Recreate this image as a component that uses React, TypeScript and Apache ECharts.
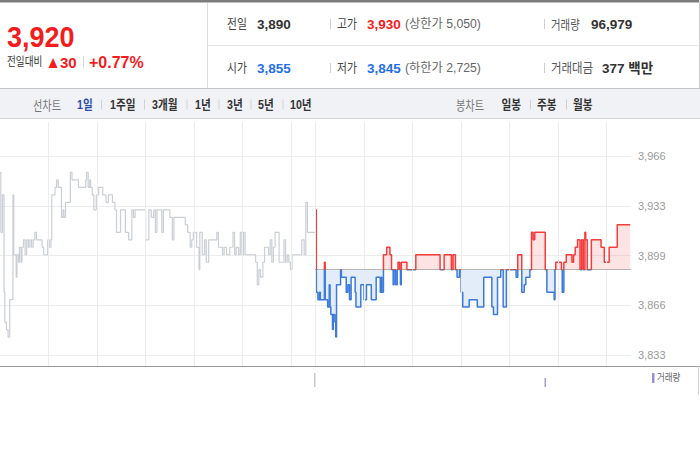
import React, { useEffect, useRef } from "react";
import * as echarts from "echarts";

// ---------- data ----------
const yTickLabels = ["3,833", "3,866", "3,899", "3,933", "3,966"];
const yMin = 3833;
const yMax = 3966;
const prevClose = 3890;
const hourLines = [60, 120, 180, 240, 300, 360, 390, 450, 510, 570, 630, 690, 750];

// previous session (minutes from 09:00), gray line
const prevTimes = [
  0, 1, 3, 5, 6, 8, 10, 12, 16, 17, 20, 21, 23, 24, 26, 27, 29, 31, 33, 35, 37, 39, 41, 43, 45, 52, 54, 59, 61, 63,
  64, 68, 70, 72, 76, 78, 79, 81, 87, 89, 97, 106, 107, 109, 111, 112, 114, 116, 119, 122, 127, 131, 134, 139, 142,
  144, 149, 155, 159, 163, 165, 167, 180, 184, 187, 190, 192, 194, 200, 202, 210, 213, 215, 229, 232, 235, 237, 239,
  243, 246, 247, 250, 253, 255, 258, 268, 270, 275, 277, 280, 284, 288, 290, 292, 295, 297, 299, 301, 303, 316, 318,
  320, 322, 325, 327, 332, 334, 336, 338, 340, 345, 351, 353, 355, 357, 359, 361, 373, 376, 378, 380, 390,
];
const prevPrices = [
  3955, 3915, 3940, 3875, 3855, 3850, 3845, 3870, 3940, 3900, 3885, 3900, 3895, 3905, 3895, 3905, 3910, 3900, 3910,
  3905, 3910, 3905, 3910, 3915, 3910, 3905, 3900, 3910, 3905, 3910, 3940, 3945, 3950, 3945, 3925, 3930, 3925, 3935,
  3955, 3950, 3945, 3950, 3955, 3945, 3950, 3945, 3940, 3930, 3940, 3945, 3940, 3935, 3940, 3935, 3930, 3915, 3930,
  3915, 3910, 3930, 3925, 3930, 3910, 3930, 3925, 3930, 3915, 3930, 3915, 3930, 3925, 3910, 3925, 3920, 3915, 3905,
  3910, 3915, 3905, 3890, 3915, 3900, 3910, 3895, 3910, 3915, 3905, 3900, 3905, 3900, 3905, 3915, 3900, 3905, 3900,
  3915, 3900, 3915, 3900, 3895, 3880, 3890, 3885, 3895, 3905, 3900, 3910, 3895, 3905, 3915, 3895, 3910, 3895, 3900,
  3895, 3890, 3900, 3910, 3900, 3935, 3915, 3915,
];

// current session (minutes from previous 09:00), red/blue line
const todayTimes = [
  390, 391, 393, 395, 396, 401, 402, 405, 407, 408, 409, 411, 412, 414, 415, 416, 421, 422, 428, 430, 432, 434, 439,
  440, 446, 450, 453, 459, 465, 470, 471, 472, 474, 478, 482, 484, 486, 487, 489, 491, 492, 494, 495, 496, 503, 514,
  544, 549, 558, 560, 563, 565, 568, 570, 572, 580, 590, 598, 608, 610, 615, 619, 622, 626, 638, 640, 645, 648, 650,
  655, 657, 659, 661, 674, 676, 685, 686, 687, 694, 695, 697, 700, 707, 709, 711, 714, 717, 719, 721, 723, 724, 726,
  731, 743, 747, 753, 763, 779,
];
const todayPrices = [
  3930, 3875, 3870, 3875, 3870, 3895, 3870, 3865, 3880, 3865, 3860, 3850, 3860, 3855, 3845, 3880, 3890, 3885, 3875,
  3880, 3870, 3885, 3875, 3865, 3880, 3870, 3880, 3870, 3885, 3875, 3885, 3875, 3900, 3905, 3900, 3890, 3880, 3890,
  3880, 3890, 3895, 3890, 3880, 3895, 3890, 3900, 3890, 3900, 3890, 3900, 3890, 3885, 3890, 3875, 3865, 3870, 3865,
  3885, 3865, 3860, 3885, 3890, 3865, 3890, 3885, 3900, 3875, 3880, 3885, 3890, 3915, 3910, 3915, 3890, 3875, 3870,
  3890, 3895, 3890, 3875, 3895, 3900, 3895, 3900, 3905, 3910, 3890, 3910, 3890, 3915, 3910, 3890, 3910, 3905, 3895,
  3905, 3920, 3920,
];

const volumeTimes = [389, 674];
const volumeValues = [7400, 4700];

// header texts
const quoteMain = ["3,920", "▲", "30", "+0.77%"];
const quoteRow1 = ["전일", "3,890", "고가", "3,930", "(상한가 5,050)", "거래량", "96,979"];
const quoteRow2 = ["시가", "3,855", "저가", "3,845", "(하한가 2,725)", "거래대금", "377 백만"];
const periodTabs = ["1일", "1주일", "3개월", "1년", "3년", "5년", "10년"];
const candleTabs = ["일봉", "주봉", "월봉"];

// ---------- styling helpers ----------
const FONT = '"Liberation Sans", "Noto Sans CJK KR", sans-serif';
const RED = "#f41c1c";
const BLUE = "#1f6fe5";
const LINE_RED = "#f63b3b";
const LINE_BLUE = "#3b7bd9";

function T(x: number, y: number, text: string, size: number, fill: string, bold = false, sx = 1) {
  return {
    type: "text",
    x,
    y,
    scaleX: sx,
    silent: true,
    style: {
      text,
      fill,
      fontSize: size,
      fontWeight: bold ? "bold" : "normal",
      fontFamily: FONT,
      align: "left",
      verticalAlign: "middle",
      textAlign: "left",
      textVerticalAlign: "middle",
    },
  };
}
function L(x1: number, y1: number, x2: number, y2: number, stroke: string, w = 1) {
  return { type: "line", silent: true, shape: { x1, y1, x2, y2 }, style: { stroke, lineWidth: w } };
}
function R(x: number, y: number, w: number, h: number, fill: string) {
  return { type: "rect", silent: true, shape: { x, y, width: w, height: h }, style: { fill } };
}

function buildGraphic() {
  const g: any[] = [];
  // frame
  g.push(R(0, 0, 700, 2.5, "#7c7c7c"));
  g.push(L(207.5, 3, 207.5, 88, "#dcdcdc"));
  g.push(L(208, 45.5, 700, 45.5, "#e6e6e6"));
  g.push(L(699.5, 0, 699.5, 88, "#d0d0d0"));
  g.push(L(0, 88.5, 700, 88.5, "#c4c4c4"));
  g.push(R(0, 89, 700, 29, "#f0f2f6"));
  g.push(L(0, 118.5, 700, 118.5, "#d6d6d6"));

  // left quote
  g.push(T(7, 36, quoteMain[0], 30, RED, true, 0.9));
  g.push(T(7, 62, "전일대비", 12, "#333", false, 0.8));
  g.push(T(45.5, 62, quoteMain[1], 17, RED, false, 0.9));
  g.push(T(60, 62, quoteMain[2], 15, RED, true));
  g.push(L(83.5, 56, 83.5, 68, "#d8d8d8"));
  g.push(T(89, 62, quoteMain[3], 16, RED, true));

  // quote table
  const rows = [quoteRow1, quoteRow2];
  const rowY = [24, 68];
  const valColors = [["#333", RED], [BLUE, BLUE]];
  rows.forEach((r, i) => {
    const y = rowY[i];
    g.push(T(227, y, r[0], 13, "#444", false, 0.83));
    g.push(T(257, y, r[1], 13.5, valColors[i][0], true));
    g.push(L(330.5, y - 5, 330.5, y + 5, "#cfcfcf"));
    g.push(T(337, y, r[2], 13, "#444", false, 0.83));
    g.push(T(367, y, r[3], 13.5, valColors[i][1], true));
    g.push(T(405, y, r[4], 12, "#666", false, 1.02));
    g.push(L(544.5, y - 5, 544.5, y + 5, "#cfcfcf"));
    g.push(T(551, y, r[5], 13, "#555", false, i === 0 ? 0.8 : 0.88));
    g.push(T(i === 0 ? 591 : 602, y, r[6], 13.5, "#333", true));
  });

  // tab bar
  const ty = 104.5;
  g.push(T(33, ty, "선차트", 13, "#777", false, 0.78));
  const tabX = [77, 110, 152, 195, 227, 258, 290];
  const sepX = [101, 144, 186.5, 218.5, 250.5, 282.5];
  periodTabs.forEach((t, i) => g.push(T(tabX[i], ty, t, 13, i === 0 ? "#2d4fa6" : "#333", true, 0.82)));
  sepX.forEach((x) => g.push(L(x + 0.5, ty - 5, x + 0.5, ty + 5, "#d0d0d0")));
  g.push(T(456, ty, "봉차트", 13, "#777", false, 0.78));
  const cX = [501.5, 537, 573];
  candleTabs.forEach((t, i) => g.push(T(cX[i], ty, t, 13, "#333", true, 0.82)));
  [530, 566].forEach((x) => g.push(L(x + 0.5, ty - 5, x + 0.5, ty + 5, "#d0d0d0")));

  // axis line and volume legend
  g.push(L(0, 366.5, 700, 366.5, "#999"));
  g.push(L(698.5, 366, 698.5, 395, "#cfcfcf"));
  g.push(R(652, 373, 2.5, 10, "#9b8ed6"));
  g.push(T(657, 378, "거래량", 10, "#666", false, 0.85));
  return g;
}

export default function App() {
  const ref = useRef<HTMLDivElement>(null);
  useEffect(() => {
    document.body.style.margin = "0";
    const chart = echarts.init(ref.current!, undefined, { renderer: "svg" });
    const prevData = prevTimes.map((t, i) => [t, prevPrices[i]]);
    const todayData = todayTimes.map((t, i) => [t, todayPrices[i]]);
    const volData = volumeTimes.map((t, i) => ({
      value: [t, volumeValues[i]],
      itemStyle: { color: t < 390 ? "#c8c8c8" : "#a99ad8" },
    }));
    const hidden = { show: false };
    chart.setOption({
      animation: false,
      backgroundColor: "#fff",
      grid: [
        { left: 0, right: 69, top: 122, bottom: 84 },
        { left: 0, right: 69, top: 156, bottom: 95 },
        { left: 0, right: 69, top: 368, bottom: 63 },
      ],
      xAxis: [0, 1, 2].map((i) => ({
        type: "value",
        gridIndex: i,
        min: 0,
        max: 780,
        axisLine: hidden,
        axisTick: hidden,
        axisLabel: hidden,
        splitLine: hidden,
      })),
      yAxis: [
        { type: "value", gridIndex: 0, min: 0, max: 1, show: false },
        { type: "value", gridIndex: 1, min: yMin, max: yMax, show: false },
        {
          type: "value",
          gridIndex: 1,
          min: 0,
          max: yTickLabels.length - 1,
          interval: 1,
          position: "right",
          axisLine: hidden,
          axisTick: hidden,
          axisLabel: {
            formatter: (v: number) => yTickLabels[v] ?? "",
            color: "#9a9a9a",
            fontSize: 11,
            fontFamily: "Liberation Sans",
            margin: 7,
          },
          splitLine: { show: true, lineStyle: { color: "#ececec", width: 1 } },
        },
        { type: "value", gridIndex: 2, min: 0, max: 10000, show: false },
      ],
      visualMap: {
        type: "piecewise",
        show: false,
        seriesIndex: 2,
        dimension: 1,
        pieces: [
          { gt: 0, lt: prevClose, color: LINE_BLUE },
          { gte: prevClose, lte: 100000, color: LINE_RED },
        ],
      },
      series: [
        {
          type: "line",
          xAxisIndex: 0,
          yAxisIndex: 0,
          data: [
            [0, 0],
            [780, 0],
          ],
          symbol: "none",
          lineStyle: { opacity: 0 },
          silent: true,
          markLine: {
            silent: true,
            symbol: ["none", "none"],
            label: { show: false },
            lineStyle: { color: "#ececec", width: 1, type: "solid" },
            data: hourLines.map((v) => ({ xAxis: v })),
          },
        },
        {
          type: "line",
          xAxisIndex: 1,
          yAxisIndex: 1,
          data: prevData,
          step: "end",
          symbol: "none",
          silent: true,
          lineStyle: { color: "#caced5", width: 1.2 },
        },
        {
          type: "line",
          xAxisIndex: 1,
          yAxisIndex: 1,
          data: todayData,
          step: "end",
          symbol: "none",
          silent: true,
          lineStyle: { width: 1.5 },
          areaStyle: { origin: prevClose, opacity: 0.14 },
          markLine: {
            silent: true,
            symbol: ["none", "none"],
            label: { show: false },
            lineStyle: { color: "#777", width: 1, type: [1, 1] },
            data: [
              [
                { coord: [390, prevClose] },
                { coord: [780, prevClose] },
              ],
            ],
          },
        },
        {
          type: "bar",
          xAxisIndex: 2,
          yAxisIndex: 3,
          data: volData,
          barWidth: 1.5,
          silent: true,
        },
      ],
      graphic: buildGraphic(),
    });
    return () => chart.dispose();
  }, []);
  return <div ref={ref} style={{ position: "absolute", left: 0, top: 0, width: 700, height: 450 }} />;
}
